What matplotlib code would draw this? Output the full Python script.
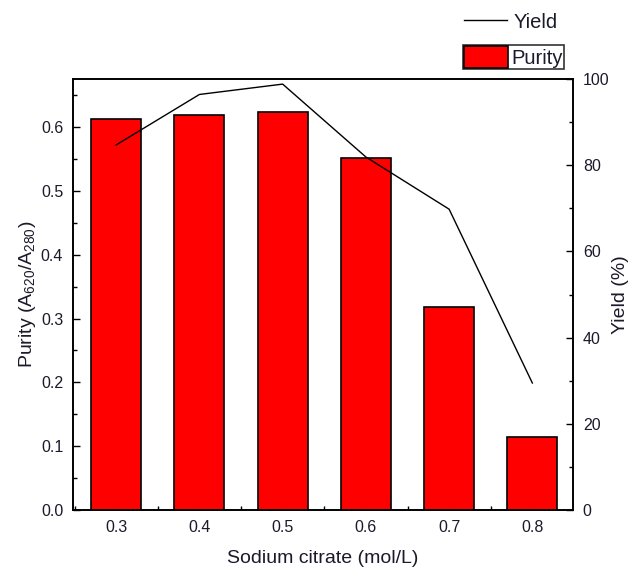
import matplotlib.pyplot as plt
from matplotlib.ticker import MultipleLocator
import numpy as np

plt.rcParams['font.family'] = ['Liberation Sans', 'DejaVu Sans']
plt.rcParams['mathtext.default'] = 'regular'

citrate = [0.3, 0.4, 0.5, 0.6, 0.7, 0.8]
purity = [0.613, 0.618, 0.624, 0.552, 0.318, 0.114]
yield_pct = [84.7, 96.4, 98.8, 81.9, 69.8, 29.5]
xtick_labels = ['0.3', '0.4', '0.5', '0.6', '0.7', '0.8']

txt = '#1a1a2a'

fig = plt.figure(figsize=(6.34, 5.72), dpi=100)
ax = fig.add_axes([0.115, 0.108, 0.789, 0.754])
bars = ax.bar(citrate, purity, width=0.06, color='red', edgecolor='black',
              linewidth=1.2, label='Purity', zorder=2)
ax.set_xlim(0.248, 0.849)
ax.set_ylim(0, 0.675)
ax.set_xticks(citrate)
ax.set_xticklabels(xtick_labels)
ax.xaxis.set_minor_locator(MultipleLocator(0.05))
ax.yaxis.set_major_locator(MultipleLocator(0.1))
ax.yaxis.set_minor_locator(MultipleLocator(0.05))
ax.tick_params(which='both', direction='in', top=False, right=False,
               labelsize=11.5, labelcolor=txt, width=1)
ax.tick_params(which='major', length=5, pad=7)
ax.tick_params(which='minor', length=3)
ax.set_xlabel('Sodium citrate (mol/L)', fontsize=14, color=txt)
ax.set_ylabel('Purity (A$_{620}$/A$_{280}$)', fontsize=14, color=txt)
ax.xaxis.set_label_coords(0.5, -0.093)
ax.yaxis.set_label_coords(-0.07, 0.5)

ax2 = ax.twinx()
line, = ax2.plot(citrate, yield_pct, color='black', linewidth=1, label='Yield', zorder=3)
ax2.set_ylim(0, 100)
ax2.yaxis.set_major_locator(MultipleLocator(20))
ax2.yaxis.set_minor_locator(MultipleLocator(10))
ax2.tick_params(which='both', direction='in', labelsize=11.5, labelcolor=txt, width=1)
ax2.tick_params(which='major', length=5, pad=7)
ax2.tick_params(which='minor', length=3)
ax2.set_ylabel('Yield (%)', fontsize=14, color=txt)
ax2.yaxis.set_label_coords(1.078, 0.5)

for a in (ax, ax2):
    for s in a.spines.values():
        s.set_linewidth(1.2)

# two separate legends above the right side of the axes
leg1 = fig.legend(handles=[line], loc='center left', bbox_to_anchor=(0.732, 0.9615),
                  frameon=False, fontsize=14.5, handlelength=2.15, handletextpad=0.3,
                  borderpad=0, borderaxespad=0, labelcolor=txt)
leg2 = fig.legend(handles=[bars], loc='center left', bbox_to_anchor=(0.730, 0.900),
                  frameon=True, fancybox=False, fontsize=14.5, handlelength=2.2,
                  handleheight=1.3, handletextpad=0.15, borderpad=0.05,
                  borderaxespad=0, labelcolor=txt)
leg2.get_frame().set_edgecolor('black')
leg2.get_frame().set_linewidth(1.2)

fig.savefig('out.png', dpi=100)
